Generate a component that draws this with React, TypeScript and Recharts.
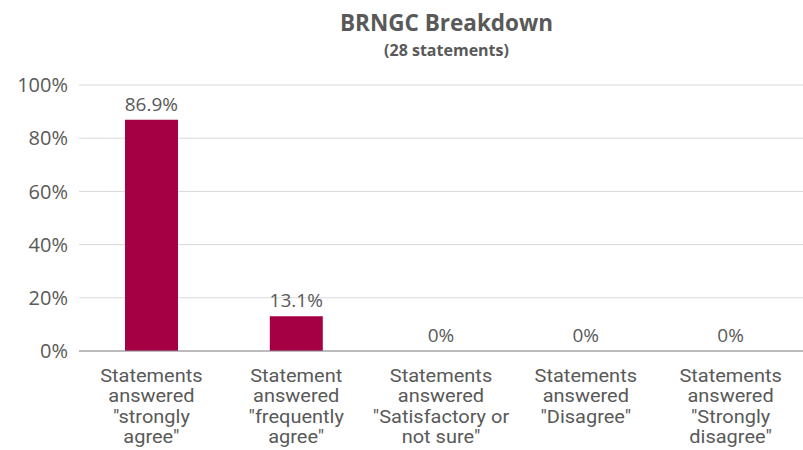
import { Bar, CartesianGrid, ComposedChart, LabelList, Line, XAxis, YAxis } from "recharts";

const categories = [
  'Statements answered "strongly agree"',
  'Statement answered "frequently agree"',
  'Statements answered "Satisfactory or not sure"',
  'Statements answered "Disagree"',
  'Statements answered "Strongly disagree"',
];
const tickLines = [
  ["Statements", "answered", "\"strongly", "agree\""],
  ["Statement", "answered", "\"frequently", "agree\""],
  ["Statements", "answered", "\"Satisfactory or", "not sure\""],
  ["Statements", "answered", "\"Disagree\""],
  ["Statements", "answered", "\"Strongly", "disagree\""],
];
const shares = [86.9, 13.1, 0, 0, 0];
const yTicks = [0, 20, 40, 60, 80, 100];

const data = categories.map((name, i) => ({ name, share: shares[i] }));

const gray = "#595959";

function CategoryTick(props: any) {
  const { x, y, index } = props;
  const lines = tickLines[index] || [];
  return (
    <g transform={`translate(${x},${y}) scale(1.08,1)`}>
      <text x={0} y={0} textAnchor="middle" fill={gray} fontSize={18.5} fontFamily="Roboto, sans-serif">
        {lines.map((l, i) => (
          <tspan key={i} x={0} y={23 + i * 20.5}>
            {l}
          </tspan>
        ))}
      </text>
    </g>
  );
}

export default function App() {
  const titleBox = {
    position: "absolute" as const,
    left: 0,
    width: 803,
    textAlign: "center" as const,
    color: gray,
    fontWeight: 700,
    paddingLeft: 90,
    boxSizing: "border-box" as const,
    fontFamily: "'Open Sans', sans-serif",
    lineHeight: 1,
  };
  return (
    <div style={{ position: "relative", width: 803, height: 450, overflow: "hidden" }}>
      <style>{`body{margin:0;overflow:hidden}`}</style>
      <div style={{ ...titleBox, top: 12, fontSize: 22.5 }}>BRNGC Breakdown</div>
      <div style={{ ...titleBox, top: 42, fontSize: 16 }}>(28 statements)</div>
      <ComposedChart width={803} height={450} data={data} margin={{ top: 85, right: 0, bottom: 0, left: 0 }}>
        <CartesianGrid stroke="#d9d9d9" vertical={false} />
        <XAxis
          dataKey="name"
          height={99}
          interval={0}
          tickLine={false}
          axisLine={{ stroke: "#8c8c8c" }}
          tick={<CategoryTick />}
        />
        <YAxis
          width={79}
          domain={[0, 100]}
          ticks={yTicks}
          tickFormatter={(v) => `${v}%`}
          axisLine={false}
          tickLine={false}
          tick={{ fill: gray, fontSize: 20, fontFamily: "'Open Sans', sans-serif" }}
          tickMargin={5}
        />
        <Bar dataKey="share" fill="#a50044" barSize={53} isAnimationActive={false} />
        <Line
          dataKey="share"
          stroke="none"
          dot={false}
          activeDot={false}
          legendType="none"
          isAnimationActive={false}
        >
          <LabelList
            dataKey="share"
            position="top"
            offset={9}
            formatter={(v: any) => `${v}%`}
            fill={gray}
            fontSize={19}
            fontFamily="'Open Sans', sans-serif"
          />
        </Line>
      </ComposedChart>
    </div>
  );
}
